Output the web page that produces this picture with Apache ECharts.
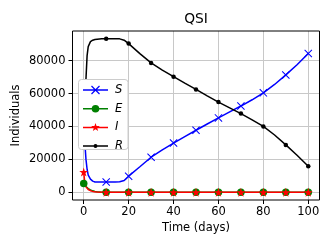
<!DOCTYPE html>
<html>
<head>
<meta charset="utf-8">
<script src="https://cdn.jsdelivr.net/npm/echarts@6/dist/echarts.min.js"></script>
<style>
html,body{margin:0;padding:0;background:#fff;}
#chart{width:332px;height:249px;}
</style>
</head>
<body>
<div id="chart"></div>
<script>
// ---- data ----
const titleText = 'QSI';
const xLabel = 'Time (days)';
const yLabel = 'Individuals';
const seriesNames = ['S', 'E', 'I', 'R'];
const days = [0,0.5,1,1.5,2,3,4,5,6,8,10,12,14,16,18,20,25,30,35,40,45,50,55,60,65,70,75,80,85,90,95,100];
const markerDays = [0,10,20,30,40,50,60,70,80,90,100];
const sValues = [42000,30000,20000,14000,10500,8000,6800,6300,6200,6200,6300,6300,6300,6400,7200,9800,15500,21300,25800,29900,33800,37700,41500,45200,48800,52400,56200,60400,65500,71300,77500,84300];
const eValues = [5300,4300,3500,2900,2300,1500,900,500,300,100,40,15,5,0,0,0,0,0,0,0,0,0,0,0,0,0,0,0,0,0,0,0];
const iValues = [12300,5500,3300,2300,1700,1000,550,300,170,60,20,8,3,0,0,0,0,0,0,0,0,0,0,0,0,0,0,0,0,0,0,0];
const rValues = [37000,55000,69000,83000,88500,91500,92400,92800,93000,93200,93300,93300,93300,93200,92400,90300,84200,78600,74200,70200,66300,62500,58600,54800,51300,47800,44000,40000,34800,28800,22500,15800];
const xTicks = [0, 20, 40, 60, 80, 100];
const yTicks = [0, 20000, 40000, 60000, 80000];

// ---- styling ----
const FONT = 'DejaVu Sans';
const colors = ['#0000ff', '#008000', '#ff0000', '#000000'];
const plotSymbols = [
  'path://M0.9,0L10,9.1L9.1,10L0,0.9Z M9.1,0L10,0.9L0.9,10L0,9.1Z',
  'circle',
  'path://M50,0L61.17,34.63L97.55,34.55L68.07,55.87L79.39,90.45L50,69L20.61,90.45L31.93,55.87L2.45,34.55L38.83,34.63Z',
  'circle'
];
const plotSymbolSizes = [8, 7.5, 9, 4.5];
const BOX = 'M0,0L0,0M0,10L0,10M0,4.25H25V5.75H0Z ';
const legendIcons = [
  'path://' + BOX + 'M8.92,0.58L16.92,8.58L16.08,9.42L8.08,1.42Z M16.92,1.42L8.92,9.42L8.08,8.58L16.08,0.58Z',
  'path://' + BOX + 'M8.7,5A3.8,3.8 0 1 1 16.3,5A3.8,3.8 0 1 1 8.7,5Z',
  'path://' + BOX + 'M12.5,0.5L13.56,3.54L16.78,3.61L14.21,5.56L15.15,8.64L12.5,6.8L9.85,8.64L10.79,5.56L8.22,3.61L11.44,3.54Z',
  'path://' + BOX + 'M10.5,5A2,2 0 1 1 14.5,5A2,2 0 1 1 10.5,5Z'
];

const valueSets = [sValues, eValues, iValues, rValues];

// geometry
const xMin = -5, xMax = 105, yMin = -4665, yMax = 97965;
const gA = {left: 72.5, right: 12.5, top: 31, bottom: 49};
const pxPerDay = (332 - gA.left - gA.right) / (xMax - xMin);
const plotH = 249 - gA.top - gA.bottom;
const pxPerVal = plotH / (yMax - yMin);
const yZeroPx = gA.top + (yMax - 0) * pxPerVal;
const y80Px = gA.top + (yMax - 80000) * pxPerVal;
const legendBox = {x: 78.5, y: 79.5, width: 49.5, height: 70};

const series = seriesNames.map((name, k) => ({
  name: name,
  type: 'line',
  xAxisIndex: 0,
  yAxisIndex: 0,
  data: days.map((d, i) => {
    const item = {value: [d, valueSets[k][i]]};
    if (markerDays.indexOf(d) < 0) item.symbol = 'none';
    return item;
  }),
  symbol: plotSymbols[k],
  symbolSize: plotSymbolSizes[k],
  showSymbol: true,
  showAllSymbol: true,
  clip: false,
  smooth: false,
  lineStyle: {color: colors[k], width: 1.5},
  itemStyle: {color: colors[k], borderWidth: 0},
  emphasis: {disabled: true},
  z: 2
}));

const tickLabelStyle = {color: '#000', fontFamily: FONT, fontSize: 11.5, formatter: v => String(v)};
const gridBase = {containLabel: false, outerBoundsMode: 'none'};

const option = {
  animation: false,
  backgroundColor: '#fff',
  title: {
    text: titleText,
    left: 196,
    top: 12,
    textAlign: 'center',
    padding: 0,
    textStyle: {color: '#000', fontFamily: FONT, fontSize: 13.8, fontWeight: 'normal'}
  },
  graphic: {
    elements: [{
      type: 'rect',
      zlevel: 2,
      z: 100,
      silent: true,
      shape: {x: legendBox.x, y: legendBox.y, width: legendBox.width, height: legendBox.height, r: 3},
      style: {fill: '#ffffff', stroke: '#cccccc', lineWidth: 1}
    }]
  },
  legend: {
    z: 200,
    zlevel: 3,
    orient: 'vertical',
    left: 78,
    top: 79,
    padding: [5, 6, 4, 5],
    itemWidth: 25,
    itemHeight: 10,
    itemGap: 6.7,
    backgroundColor: 'transparent',
    borderWidth: 0,
    selectedMode: false,
    textStyle: {color: '#000', fontFamily: FONT, fontSize: 11.5, fontStyle: 'italic', lineHeight: 10, padding: [0, 0, 0, 2]},
    data: seriesNames.map((n, k) => ({name: n, icon: legendIcons[k], itemStyle: {color: colors[k]}}))
  },
  grid: [
    Object.assign({left: gA.left, right: gA.right, top: gA.top, bottom: gA.bottom, show: true, borderColor: '#000', borderWidth: 1, backgroundColor: 'transparent', z: 4}, gridBase),
    Object.assign({left: gA.left + 5 * pxPerDay, right: gA.right + 5 * pxPerDay, top: gA.top, bottom: gA.bottom}, gridBase),
    Object.assign({left: gA.left, right: gA.right, top: y80Px, bottom: 249 - yZeroPx}, gridBase)
  ],
  xAxis: [
    {gridIndex: 0, type: 'value', min: xMin, max: xMax,
     name: xLabel, nameLocation: 'middle', nameGap: 22,
     nameTextStyle: {color: '#000', fontFamily: FONT, fontSize: 11.5},
     axisLine: {show: false}, axisTick: {show: false}, axisLabel: {show: false}, splitLine: {show: false}},
    {gridIndex: 1, type: 'value', min: xTicks[0], max: xTicks[xTicks.length - 1], interval: xTicks[1] - xTicks[0],
     axisLine: {show: false},
     axisTick: {show: true, inside: false, length: 4, lineStyle: {color: '#000', width: 1}},
     axisLabel: Object.assign({margin: 6, alignMinLabel: 'center', alignMaxLabel: 'center', hideOverlap: false}, tickLabelStyle),
     splitLine: {show: true, lineStyle: {color: '#c8c8c8', width: 1}}},
    {gridIndex: 2, type: 'value', show: false}
  ],
  yAxis: [
    {gridIndex: 0, type: 'value', min: yMin, max: yMax,
     name: yLabel, nameLocation: 'middle', nameGap: 50,
     nameTextStyle: {color: '#000', fontFamily: FONT, fontSize: 11.5},
     axisLine: {show: false}, axisTick: {show: false}, axisLabel: {show: false}, splitLine: {show: false}},
    {gridIndex: 1, type: 'value', show: false},
    {gridIndex: 2, type: 'value', min: yTicks[0], max: yTicks[yTicks.length - 1], interval: yTicks[1] - yTicks[0],
     axisLine: {show: false},
     axisTick: {show: true, inside: false, length: 4, lineStyle: {color: '#000', width: 1}},
     axisLabel: Object.assign({margin: 7, verticalAlignMinLabel: 'middle', verticalAlignMaxLabel: 'middle', hideOverlap: false}, tickLabelStyle),
     splitLine: {show: true, lineStyle: {color: '#c8c8c8', width: 1}}}
  ],
  series: series
};

const chart = echarts.init(document.getElementById('chart'), null, {renderer: 'canvas', width: 332, height: 249});
chart.setOption(option);
</script>
</body>
</html>
